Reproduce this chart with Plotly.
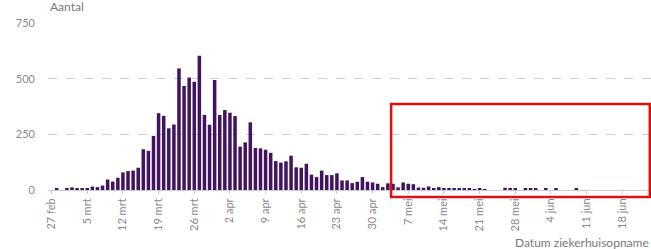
import pandas as pd
import plotly.graph_objects as go

# Daily hospital admissions, starting 2020-02-27
start_date = "2020-02-27"
admissions = [
    0, 6, 0, 8, 12, 7, 7, 7, 15, 13,          # 27 feb - 7 mrt
    20, 47, 38, 55, 79, 85, 87, 100, 183, 176,  # 8 - 17 mrt
    243, 345, 333, 277, 294, 546, 467, 505, 486, 603,  # 18 - 27 mrt
    337, 293, 494, 337, 359, 347, 332, 195, 214, 304,  # 28 mrt - 6 apr
    189, 187, 181, 167, 130, 123, 129, 154, 102, 100,  # 7 - 16 apr
    118, 69, 58, 87, 67, 67, 75, 43, 43, 31,   # 17 - 26 apr
    37, 58, 37, 34, 28, 13, 30, 28, 12, 34,    # 27 apr - 6 mei
    28, 26, 11, 10, 16, 8, 13, 6, 6, 5,        # 7 - 16 mei
    6, 5, 6, 4, 6, 4, 0, 0, 0, 10,             # 17 - 26 mei
    6, 6, 0, 5, 5, 5, 0, 5, 0, 5,              # 27 mei - 5 jun
    0, 0, 0, 5,                                # 6 - 9 jun
]
dates = pd.date_range(start_date, periods=len(admissions), freq="D")

tick_dates = ["2020-02-27", "2020-03-05", "2020-03-12", "2020-03-19", "2020-03-26",
              "2020-04-02", "2020-04-09", "2020-04-16", "2020-04-23", "2020-04-30",
              "2020-05-07", "2020-05-14", "2020-05-21", "2020-05-28", "2020-06-04",
              "2020-06-11", "2020-06-18"]
tick_labels = ["27 feb", "5 mrt", "12 mrt", "19 mrt", "26 mrt", "2 apr", "9 apr",
               "16 apr", "23 apr", "30 apr", "7 mei", "14 mei", "21 mei", "28 mei",
               "4 jun", "11 jun", "18 jun"]
y_ticks = [0, 250, 500, 750]

x_range = ["2020-02-26 07:02", "2020-06-23 15:26"]

FONT = "Lato"
GREY = "#7a7a7a"

fig = go.Figure(go.Bar(
    x=dates, y=admissions,
    marker=dict(color="#42145f", line=dict(width=0)),
    width=0.69 * 86400000,
))

fig.update_layout(
    width=651, height=249,
    margin=dict(l=48, r=0, t=23, b=59),
    plot_bgcolor="white", paper_bgcolor="white",
    showlegend=False,
    font=dict(family=FONT, size=11, color=GREY),
    xaxis=dict(
        type="date", range=x_range,
        tickmode="array", tickvals=tick_dates, ticktext=tick_labels,
        tickangle=-90, ticks="outside", ticklen=3, tickcolor="#c5cde0",
        showgrid=False, showline=True, linecolor="#c5cde0", linewidth=1,
        tickfont=dict(family=FONT, size=11, color="#8a8a8a"),
        zeroline=False, automargin=False,
    ),
    yaxis=dict(
        range=[0, 750], tickvals=y_ticks,
        showgrid=True, gridcolor="#c8cfdd", griddash="dash", gridwidth=1,
        zeroline=False, showline=False, ticks="",
        ticklabelstandoff=12, automargin=False,
        tickfont=dict(family=FONT, size=11, color="#8a8a8a"),
    ),
    annotations=[
        dict(text="Aantal", xref="paper", yref="paper", x=0, y=1.0, yshift=7,
             xanchor="left", yanchor="bottom", showarrow=False,
             font=dict(family=FONT, size=12, color=GREY)),
        dict(text="Datum ziekerhuisopname", xref="paper", yref="paper", x=1, y=0,
             yshift=-43, xanchor="right", yanchor="top", showarrow=False,
             font=dict(family=FONT, size=12, color=GREY)),
    ],
    shapes=[
        dict(type="rect", xref="paper", yref="paper",
             x0=0.569, x1=0.998, y0=-0.042, y1=0.515,
             line=dict(color="#e01010", width=2.5), fillcolor="rgba(0,0,0,0)",
             layer="above"),
    ],
)

fig.write_html("out.html", config={"displayModeBar": False},
               post_script="document.body.style.margin='0';")
